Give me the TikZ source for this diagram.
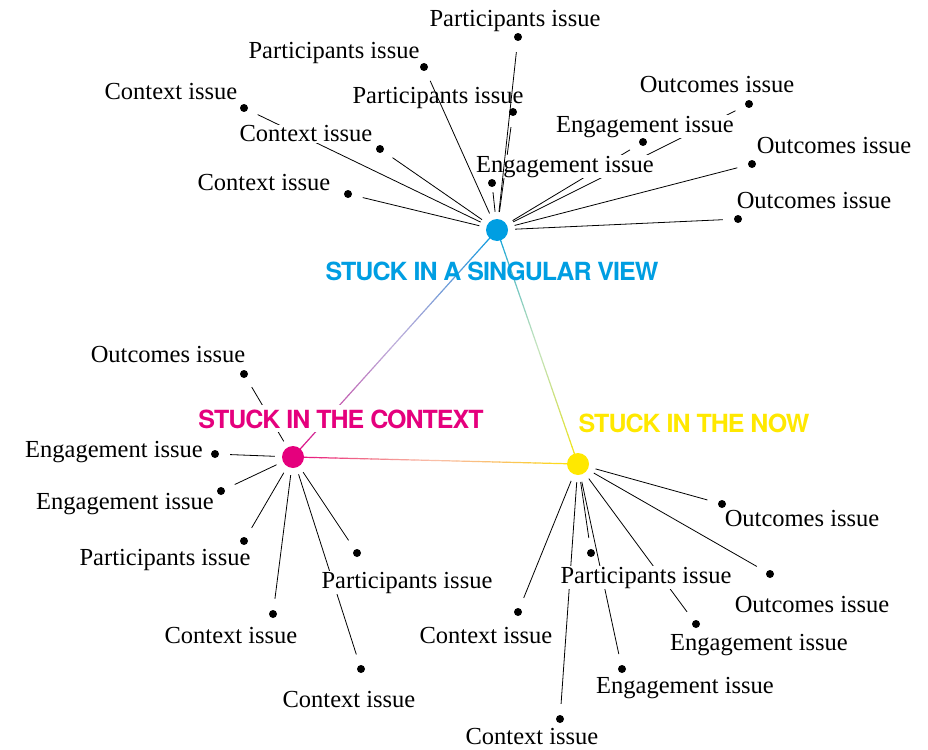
\documentclass[tikz,border=0pt]{standalone}
\usepackage{fontspec}
\setmainfont{Liberation Serif}
\newfontfamily\tagfont[LetterSpace=-4]{TeX Gyre Heros}
\usetikzlibrary{calc,backgrounds}

\definecolor{cblue}{RGB}{0,158,226}
\definecolor{cmag}{RGB}{229,0,125}
\definecolor{cyel}{RGB}{255,232,0}

\begin{document}
\begin{tikzpicture}[x=1pt,y=-1pt,
   hub/.style={circle,inner sep=0pt,minimum size=22pt},
   leaf/.style={circle,fill=black,inner sep=0pt,minimum size=8pt},
   issue/.style={anchor=base,fill=white,inner sep=1pt,font=\fontsize{24.5}{28}\selectfont},
   tag/.style={anchor=base,inner sep=4pt,font=\tagfont\bfseries\fontsize{25}{30}\selectfont},
   spoke/.style={line width=0.8pt,shorten <=7pt,shorten >=11pt}]
   \useasboundingbox (0,0) rectangle (928,749);

   % the three hubs
   \node[hub,fill=cblue] (view)    at (497,230) {};
   \node[hub,fill=cmag]  (context) at (293,457) {};
   \node[hub,fill=cyel]  (now)     at (578,464) {};

   \node[tag,text=cblue]            (viewt)    at (492,280) {STUCK IN A SINGULAR VIEW};
   \node[tag,text=cmag,fill=white]  (contextt) at (341,428) {STUCK IN THE CONTEXT};
   \node[tag,text=cyel]             (nowt)     at (694,432) {STUCK IN THE NOW};

   % singular view
   \node[leaf] (vc1) at (244,108) {};
   \node[leaf] (vc2) at (380,149) {};
   \node[leaf] (vc3) at (348,194) {};
   \node[leaf] (vp1) at (518,37)  {};
   \node[leaf] (vp2) at (424,67)  {};
   \node[leaf] (vp3) at (513,112) {};
   \node[leaf] (ve1) at (492,183) {};
   \node[leaf] (ve2) at (643,142) {};
   \node[leaf] (vo1) at (749,104) {};
   \node[leaf] (vo2) at (752,164) {};
   \node[leaf] (vo3) at (738,219) {};

   \node[issue] (vc1t) at (171,100) {Context issue};
   \node[issue] (vc2t) at (306,142) {Context issue};
   \node[issue] (vc3t) at (264,190) {Context issue};
   \node[issue] (vp1t) at (515,27)  {Participants issue};
   \node[issue] (vp2t) at (334,59)  {Participants issue};
   \node[issue,fill=none] (vp3t) at (438,103) {Participants issue};
   \node[issue] (ve1t) at (565,172) {Engagement issue};
   \node[issue] (ve2t) at (645,132) {Engagement issue};
   \node[issue] (vo1t) at (717,93)  {Outcomes issue};
   \node[issue] (vo2t) at (834,153) {Outcomes issue};
   \node[issue] (vo3t) at (814,208) {Outcomes issue};

   % context
   \node[leaf] (co1) at (244,374) {};
   \node[leaf] (ce1) at (215,454) {};
   \node[leaf] (ce2) at (221,491) {};
   \node[leaf] (cp1) at (244,541) {};
   \node[leaf] (cp2) at (357,553) {};
   \node[leaf] (cc1) at (273,614) {};
   \node[leaf] (cc2) at (361,669) {};

   \node[issue] (co1t) at (168,362) {Outcomes issue};
   \node[issue] (ce1t) at (114,457) {Engagement issue};
   \node[issue] (ce2t) at (125,509) {Engagement issue};
   \node[issue] (cp1t) at (165,565) {Participants issue};
   \node[issue] (cp2t) at (407,588) {Participants issue};
   \node[issue] (cc1t) at (231,643) {Context issue};
   \node[issue] (cc2t) at (349,707) {Context issue};

   % now
   \node[leaf] (no1) at (722,504) {};
   \node[leaf] (no2) at (770,574) {};
   \node[leaf] (ne1) at (696,624) {};
   \node[leaf] (ne2) at (622,669) {};
   \node[leaf] (np1) at (591,553) {};
   \node[leaf] (nc1) at (518,612) {};
   \node[leaf] (nc2) at (560,719) {};

   \node[issue] (no1t) at (802,526) {Outcomes issue};
   \node[issue] (no2t) at (812,612) {Outcomes issue};
   \node[issue] (ne1t) at (759,650) {Engagement issue};
   \node[issue] (ne2t) at (685,693) {Engagement issue};
   \node[issue] (np1t) at (646,583) {Participants issue};
   \node[issue] (nc1t) at (486,643) {Context issue};
   \node[issue] (nc2t) at (532,744) {Context issue};

   \begin{scope}[on background layer]
      % triangle with colour fades, paler half way
      \foreach \a/\b/\ca/\cb in {view/context/cblue/cmag,view/now/cblue/cyel,context/now/cmag/cyel}
         \foreach \i in {0,...,39} {
            \pgfmathtruncatemacro\p{(\i+0.5)*2.5}
            \pgfmathtruncatemacro\q{100-55*(1-abs(2*(\i+0.5)/40-1))}
            \draw[line width=1.2pt,line cap=round,color=\cb!\p!\ca!\q!white]
               ($(\a.center)!\i/40!(\b.center)$) -- ($(\a.center)!{(\i+1)/40}!(\b.center)$);
         }
      \foreach \l in {vc1,vc2,vc3,vp2,vp3,ve2,vo1,vo2,vo3}
         \draw[spoke] (view) -- (\l);
      \foreach \l in {co1,ce1,ce2,cp1,cp2,cc1,cc2}
         \draw[spoke] (context) -- (\l);
      \foreach \l in {no1,no2,ne1,ne2,np1,nc1,nc2}
         \draw[spoke] (now) -- (\l);
   \end{scope}
   \draw[spoke] (view) -- (vp1);
   \draw[spoke,shorten >=5pt] (view) -- (ve1);
\end{tikzpicture}
\end{document}
